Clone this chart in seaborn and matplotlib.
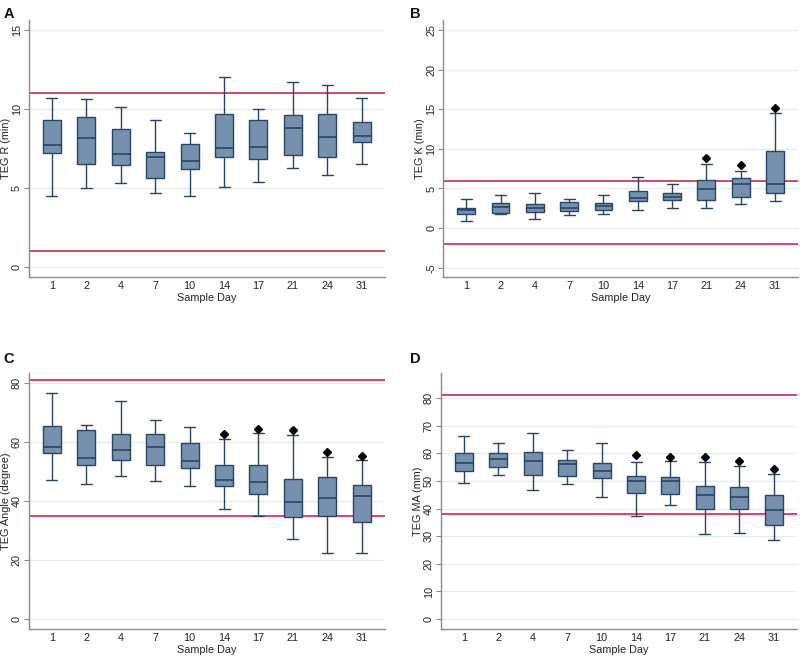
import matplotlib
matplotlib.use("Agg")
import matplotlib.pyplot as plt
import seaborn as sns
import numpy as np

sns.set_theme(style="white")
plt.rcParams['font.family'] = ['Liberation Sans', 'DejaVu Sans']

days = ["1", "2", "4", "7", "10", "14", "17", "21", "24", "31"]

# Panel A: TEG R (min)
r_lo  = [4.48, 4.99, 5.30, 4.69, 4.48, 5.07, 5.35, 6.27, 5.79, 6.49]
r_q1  = [7.18, 6.53, 6.47, 5.60, 6.21, 6.93, 6.80, 7.06, 6.97, 7.90]
r_med = [7.69, 8.16, 7.16, 6.95, 6.68, 7.50, 7.56, 8.77, 8.22, 8.26]
r_q3  = [9.30, 9.47, 8.75, 7.29, 7.78, 9.68, 9.30, 9.59, 9.66, 9.17]
r_hi  = [10.71, 10.65, 10.10, 9.30, 8.45, 12.04, 10.01, 11.68, 11.49, 10.71]
r_out = [[], [], [], [], [], [], [], [], [], []]
r_ref = [1, 11]

# Panel B: TEG K (min)
k_lo  = [0.90, 1.75, 1.15, 1.61, 1.83, 2.33, 2.58, 2.58, 3.05, 3.39]
k_q1  = [1.83, 1.95, 2.04, 2.16, 2.33, 3.43, 3.51, 3.60, 3.93, 4.48]
k_med = [2.25, 2.67, 2.55, 2.58, 2.84, 3.81, 3.98, 4.99, 5.53, 5.58]
k_q3  = [2.58, 3.13, 3.09, 3.26, 3.22, 4.65, 4.44, 6.08, 6.33, 9.75]
k_hi  = [3.68, 4.23, 4.40, 3.68, 4.23, 6.50, 5.62, 8.14, 7.26, 14.55]
k_out = [[], [], [], [], [], [], [], [8.86], [7.93], [15.14]]
k_ref = [-2, 6]

# Panel C: TEG Angle (degree)
a_lo  = [47.0, 45.8, 48.6, 46.8, 45.0, 37.3, 35.1, 27.0, 22.5, 22.5]
a_q1  = [56.2, 52.2, 53.8, 52.2, 51.1, 45.1, 42.4, 34.5, 34.8, 32.9]
a_med = [58.5, 54.6, 57.4, 58.3, 53.7, 47.2, 46.6, 39.8, 40.9, 41.7]
a_q3  = [65.4, 64.2, 62.8, 62.7, 59.7, 52.4, 52.2, 47.5, 48.1, 45.4]
a_hi  = [76.8, 65.8, 73.8, 67.5, 65.0, 61.2, 63.1, 62.4, 55.1, 53.9]
a_out = [[], [], [], [], [], [62.8], [64.6], [64.2], [56.7], [55.4]]
a_ref = [35, 81]

# Panel D: TEG MA (mm)
m_lo  = [49.3, 52.2, 46.7, 48.9, 44.2, 37.4, 41.2, 30.8, 31.0, 28.7]
m_q1  = [53.5, 55.2, 52.0, 51.9, 50.9, 45.5, 45.3, 39.9, 39.9, 34.1]
m_med = [56.6, 57.8, 57.1, 56.0, 53.7, 50.1, 50.1, 44.9, 44.2, 39.4]
m_q3  = [60.2, 60.0, 60.4, 57.5, 56.3, 51.6, 51.3, 48.0, 47.8, 44.9]
m_hi  = [66.1, 63.8, 67.2, 61.3, 63.6, 56.8, 57.1, 56.9, 55.3, 52.5]
m_out = [[], [], [], [], [], [59.3], [58.8], [58.7], [57.2], [54.4]]
m_ref = [38, 81]

BOX_FILL = "#7691ae"
EDGE = "#2b4464"
RED = "#c8163a"
GRID = "#e4eef2"
SPINE = "#8a8a8a"
TXT = "#222222"

fig = plt.figure(figsize=(8, 6.58), dpi=100)

panels = [
    dict(pos=[0.036, 0.579, 0.445, 0.391], lo=r_lo, q1=r_q1, med=r_med, q3=r_q3, hi=r_hi, out=r_out,
         ref=r_ref, ylabel="TEG R (min)", ylim=(-0.63, 15.63), yticks=[0, 5, 10, 15], label="A",
         lab_xy=(0.004, 0.99)),
    dict(pos=[0.554, 0.579, 0.4435, 0.391], lo=k_lo, q1=k_q1, med=k_med, q3=k_q3, hi=k_hi, out=k_out,
         ref=k_ref, ylabel="TEG K (min)", ylim=(-6.18, 26.3), yticks=[-5, 0, 5, 10, 15, 20, 25], label="B",
         lab_xy=(0.513, 0.99)),
    dict(pos=[0.036, 0.044, 0.445, 0.389], lo=a_lo, q1=a_q1, med=a_med, q3=a_q3, hi=a_hi, out=a_out,
         ref=a_ref, ylabel="TEG Angle (degree)", ylim=(-3.4, 83.4), yticks=[0, 20, 40, 60, 80], label="C",
         lab_xy=(0.004, 0.465)),
    dict(pos=[0.551, 0.044, 0.445, 0.389], lo=m_lo, q1=m_q1, med=m_med, q3=m_q3, hi=m_hi, out=m_out,
         ref=m_ref, ylabel="TEG MA (mm)", ylim=(-3.6, 89.0), yticks=[0, 10, 20, 30, 40, 50, 60, 70, 80], label="D",
         lab_xy=(0.513, 0.465)),
]

for p in panels:
    ax = fig.add_axes(p["pos"])
    stats = []
    for i, d in enumerate(days):
        stats.append(dict(label=d, whislo=p["lo"][i], q1=p["q1"][i], med=p["med"][i],
                          q3=p["q3"][i], whishi=p["hi"][i], fliers=p["out"][i]))
    for yt in p["yticks"]:
        ax.axhline(yt, color=GRID, lw=0.9, zorder=0)
    for r in p["ref"]:
        ax.axhline(r, color=RED, lw=1.1, zorder=1)
    ax.bxp(stats, positions=np.arange(len(days)), widths=0.52, patch_artist=True,
           showfliers=True,
           boxprops=dict(facecolor=BOX_FILL, edgecolor=EDGE, linewidth=1.0),
           medianprops=dict(color=EDGE, linewidth=1.2),
           whiskerprops=dict(color=EDGE, linewidth=1.0),
           capprops=dict(color=EDGE, linewidth=1.0),
           capwidths=0.32,
           flierprops=dict(marker="D", markerfacecolor="black", markeredgecolor="black",
                           markersize=4.5, linestyle="none"),
           manage_ticks=False, zorder=2)
    ax.set_xlim(-0.67, 9.67)
    ax.set_ylim(*p["ylim"])
    ax.set_xticks(np.arange(len(days)))
    ax.set_xticklabels(days, fontsize=7.8, color=TXT)
    ax.set_yticks(p["yticks"])
    ax.set_yticklabels([str(v) for v in p["yticks"]], fontsize=7.8, rotation=90,
                       va="center", color=TXT)
    ax.tick_params(axis="x", length=0, pad=3)
    ax.tick_params(axis="y", length=3.5, width=0.8, color=SPINE, pad=1.5, left=True)
    ax.set_xlabel("Sample Day", fontsize=7.8, color=TXT)
    ax.set_ylabel(p["ylabel"], fontsize=7.8, color=TXT)
    h_px = p["pos"][3] * 658
    w_px = p["pos"][2] * 800
    ax.xaxis.set_label_coords(0.5, -21.0 / h_px)
    ax.xaxis.label.set_va("center")
    ax.yaxis.set_label_coords(-23.0 / w_px, 0.5)
    ax.yaxis.label.set_va("center")
    ax.grid(False)
    for s in ["top", "right"]:
        ax.spines[s].set_visible(False)
    for s in ["left", "bottom"]:
        ax.spines[s].set_color(SPINE)
        ax.spines[s].set_linewidth(1.0)
    ax.set_facecolor("white")
    fig.text(p["lab_xy"][0], p["lab_xy"][1], p["label"], fontsize=10.5, fontweight="bold",
             va="top", ha="left", color="#111111")

fig.savefig("out.png", dpi=100)
